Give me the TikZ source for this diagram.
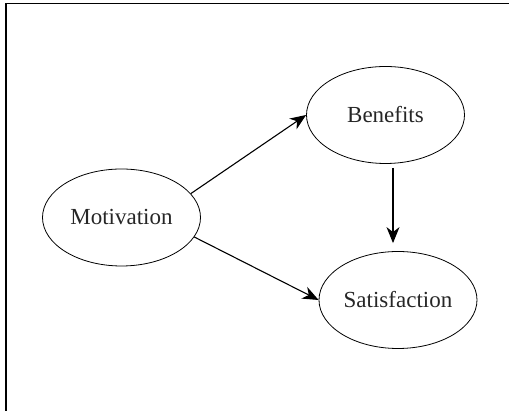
\documentclass[tikz,border=0pt]{standalone}
\usepackage{fontspec}
\setmainfont{Liberation Serif}
\usepackage{tikz}
\usetikzlibrary{arrows.meta,shapes.geometric}

\begin{document}
\begin{tikzpicture}[x=1pt,y=1pt,
    concept/.style={draw,ellipse,line width=0.8pt,inner sep=0pt,
        minimum width=158pt,minimum height=97pt,font=\fontsize{23}{27}\selectfont,text=black!85},
    link/.style={line width=1.1pt,-{Stealth[length=16pt,width=13pt,inset=5pt]}}]
    \useasboundingbox (0,0) rectangle (509,411);
    \draw[line width=1.6pt] (6,0) -- (6,407.5) -- (509,407.5);
    \node[concept] (mot) at (121.5,193.5) {Motivation};
    \node[concept] (ben) at (385.5,296) {Benefits};
    \node[concept] (sat) at (398,111) {Satisfaction};
    \draw[link] (mot.19) -- (ben.180);
    \draw[link] (mot.-15) -- (sat.west);
    \draw[link,shorten <=4pt,shorten >=8pt] ([xshift=7.5pt]ben.south) -- ([xshift=7.5pt]ben.south |- sat.north);
\end{tikzpicture}
\end{document}
